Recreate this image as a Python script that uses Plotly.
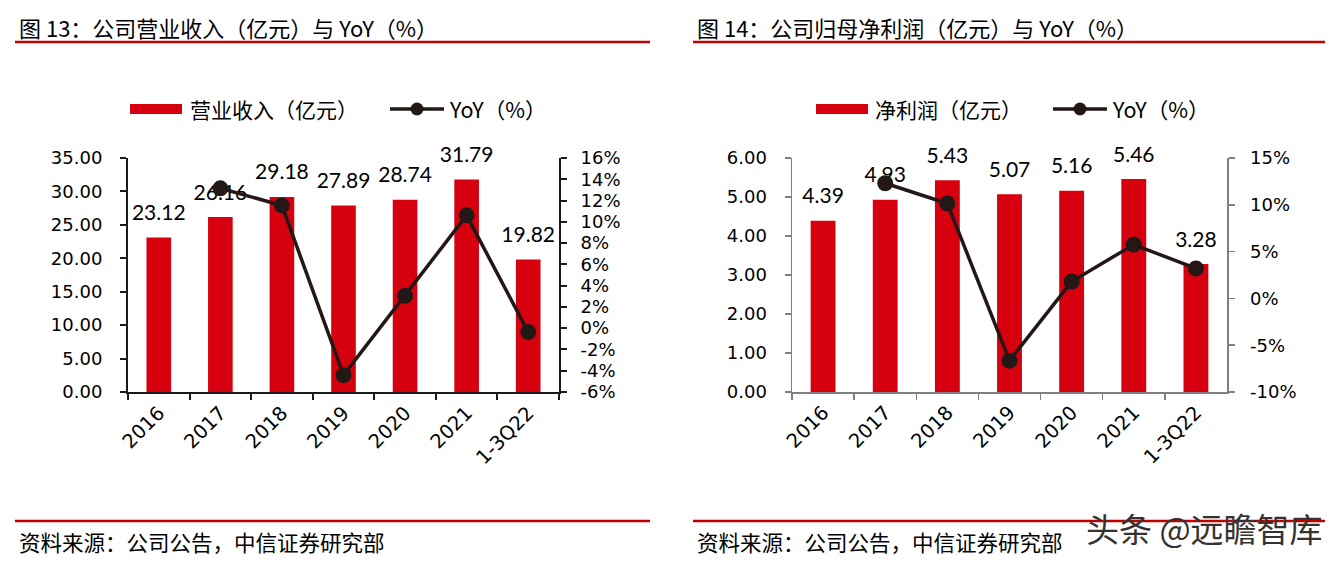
import plotly.graph_objects as go

# ---------------- data ----------------
categories = ["2016", "2017", "2018", "2019", "2020", "2021", "1-3Q22"]
revenue = [23.12, 26.16, 29.18, 27.89, 28.74, 31.79, 19.82]
revenue_yoy = [None, 13.15, 11.54, -4.42, 3.05, 10.61, -0.37]
profit = [4.39, 4.93, 5.43, 5.07, 5.16, 5.46, 3.28]
profit_yoy = [None, 12.30, 10.14, -6.65, 1.80, 5.75, 3.20]

revenue_ticks = [0, 5, 10, 15, 20, 25, 30, 35]
revenue_yoy_ticks = [-6, -4, -2, 0, 2, 4, 6, 8, 10, 12, 14, 16]
profit_ticks = [0, 1, 2, 3, 4, 5, 6]
profit_yoy_ticks = [-10, -5, 0, 5, 10, 15]

left_title = "图 13：公司营业收入（亿元）与 YoY（%）"
right_title = "图 14：公司归母净利润（亿元）与 YoY（%）"
left_bar_name = "营业收入（亿元）"
right_bar_name = "净利润（亿元）"
line_name = "YoY（%）"
source_text = "资料来源：公司公告，中信证券研究部"
watermark = "头条 @远瞻智库"

# ---------------- style ----------------
W, H = 1339, 562
BAR = "#D7000F"
LINE = "#231815"
RULE = "#C00000"
CJK = "Noto Sans CJK SC"
TICKF = "DejaVu Sans"
LABF = "Lato"


def px(x):
    return x / W


def py(y):
    return (H - y) / H


fig = go.Figure()

# left chart
fig.add_trace(go.Bar(x=categories, y=revenue, marker=dict(color=BAR, line=dict(width=0)),
                     width=0.4, xaxis="x", yaxis="y", showlegend=False, hoverinfo="skip"))
fig.add_trace(go.Scatter(x=categories, y=revenue, mode="markers+text",
                         text=[f"{v:.2f}" for v in revenue], textposition="top center",
                         textfont=dict(family=LABF, size=21, color="#000"),
                         marker=dict(size=18, color="rgba(0,0,0,0)"), cliponaxis=False,
                         xaxis="x", yaxis="y", showlegend=False, hoverinfo="skip"))
fig.add_trace(go.Scatter(x=categories, y=revenue_yoy, mode="lines+markers",
                         line=dict(color=LINE, width=3.5), marker=dict(size=16, color=LINE),
                         cliponaxis=False,
                         xaxis="x", yaxis="y2", showlegend=False, connectgaps=False))

# right chart
fig.add_trace(go.Bar(x=categories, y=profit, marker=dict(color=BAR, line=dict(width=0)),
                     width=0.4, xaxis="x2", yaxis="y3", showlegend=False, hoverinfo="skip"))
fig.add_trace(go.Scatter(x=categories, y=profit, mode="markers+text",
                         text=[f"{v:.2f}" for v in profit], textposition="top center",
                         textfont=dict(family=LABF, size=21, color="#000"),
                         marker=dict(size=18, color="rgba(0,0,0,0)"), cliponaxis=False,
                         xaxis="x2", yaxis="y3", showlegend=False, hoverinfo="skip"))
fig.add_trace(go.Scatter(x=categories, y=profit_yoy, mode="lines+markers",
                         line=dict(color=LINE, width=3.5), marker=dict(size=16, color=LINE),
                         cliponaxis=False,
                         xaxis="x2", yaxis="y4", showlegend=False, connectgaps=False))

tickfont = dict(family=TICKF, size=18, color="#000")
xtickfont = dict(family=TICKF, size=19.5, color="#000")

ydom = [py(392), py(158)]


def xaxis_cfg(dom, anchor, color, lw):
    return dict(domain=dom, anchor=anchor, type="category", tickson="boundaries",
                ticks="outside", ticklen=6, tickwidth=lw, tickcolor=color,
                showline=True, linecolor=color, linewidth=lw, showgrid=False,
                zeroline=False, tickangle=-45, tickfont=xtickfont, automargin=False,
                range=[-0.5, 6.5], fixedrange=True)


def yaxis_cfg(rng, vals, texts, side, anchor, color, lw, standoff, overlaying=None):
    d = dict(range=rng, tickmode="array", tickvals=vals, ticktext=texts,
             side=side, anchor=anchor, ticks="outside", ticklen=6, tickwidth=lw,
             tickcolor=color, showline=True, linecolor=color, linewidth=lw,
             showgrid=False, zeroline=False, tickfont=tickfont, automargin=False,
             ticklabelstandoff=standoff, fixedrange=True)
    if overlaying:
        d["overlaying"] = overlaying
    else:
        d["domain"] = ydom
    return d


fig.update_layout(
    width=W, height=H, margin=dict(l=0, r=0, t=0, b=0),
    paper_bgcolor="white", plot_bgcolor="white",
    xaxis=xaxis_cfg([px(128), px(559)], "y", "#1a1a1a", 2),
    yaxis=yaxis_cfg([0, 35], revenue_ticks, [f"{v:.2f}" for v in revenue_ticks],
                    "left", "x", "#1a1a1a", 2, 14),
    yaxis2=yaxis_cfg([-6, 16], revenue_yoy_ticks, [f"{v}%" for v in revenue_yoy_ticks],
                     "right", "x", "#1a1a1a", 2, 10, overlaying="y"),
    xaxis2=xaxis_cfg([px(792), px(1227)], "y3", "#808080", 1.5),
    yaxis3=yaxis_cfg([0, 6], profit_ticks, [f"{v:.2f}" for v in profit_ticks],
                     "left", "x2", "#808080", 1.5, 14),
    yaxis4=yaxis_cfg([-10, 15], profit_yoy_ticks, [f"{v}%" for v in profit_yoy_ticks],
                     "right", "x2", "#808080", 1.5, 12, overlaying="y3"),
    showlegend=False,
)

shapes = []
annotations = []

# titles and rules
for x0, x1, title in [(15, 650, left_title), (693, 1325, right_title)]:
    annotations.append(dict(x=px(x0 + 2), y=py(27), xref="paper", yref="paper", text=title,
                            showarrow=False, xanchor="left", yanchor="middle",
                            font=dict(family=CJK, size=22, color="#000")))
    shapes.append(dict(type="line", xref="paper", yref="paper", x0=px(x0), x1=px(x1),
                       y0=py(42), y1=py(42), line=dict(color=RULE, width=2.5)))
    shapes.append(dict(type="line", xref="paper", yref="paper", x0=px(x0), x1=px(x1),
                       y0=py(521), y1=py(521), line=dict(color=RULE, width=2.5)))
    annotations.append(dict(x=px(x0 + 2), y=py(541), xref="paper", yref="paper", text=source_text,
                            showarrow=False, xanchor="left", yanchor="middle",
                            font=dict(family=CJK, size=21.5, color="#000")))

# manual legends
LY = 109
for rx, tx, lx, name in [(130, 188, 390, left_bar_name), (816, 873, 1053, right_bar_name)]:
    shapes.append(dict(type="rect", xref="paper", yref="paper", x0=px(rx), x1=px(rx + 52),
                       y0=py(LY + 5), y1=py(LY - 5), fillcolor=BAR, line=dict(width=0)))
    annotations.append(dict(x=px(tx), y=py(LY), xref="paper", yref="paper", text=name,
                            showarrow=False, xanchor="left", yanchor="middle",
                            font=dict(family=CJK, size=21, color="#000")))
    shapes.append(dict(type="line", xref="paper", yref="paper", x0=px(lx), x1=px(lx + 54),
                       y0=py(LY), y1=py(LY), line=dict(color=LINE, width=3.5)))
    cx = lx + 27
    shapes.append(dict(type="circle", xref="paper", yref="paper", x0=px(cx - 6.5), x1=px(cx + 6.5),
                       y0=py(LY + 6.5), y1=py(LY - 6.5), fillcolor=LINE, line=dict(width=0)))
    annotations.append(dict(x=px(lx + 57), y=py(LY), xref="paper", yref="paper", text=line_name,
                            showarrow=False, xanchor="left", yanchor="middle",
                            font=dict(family=CJK, size=21.5, color="#000")))

annotations.append(dict(x=px(1325), y=py(528), xref="paper", yref="paper", text=watermark,
                        showarrow=False, xanchor="right", yanchor="middle",
                        font=dict(family=CJK, size=33, color="#333")))

fig.update_layout(shapes=shapes, annotations=annotations)

fig.write_html("out.html", config={"displayModeBar": False, "staticPlot": True},
               post_script="document.body.style.margin='0';document.body.style.overflow='hidden';")
